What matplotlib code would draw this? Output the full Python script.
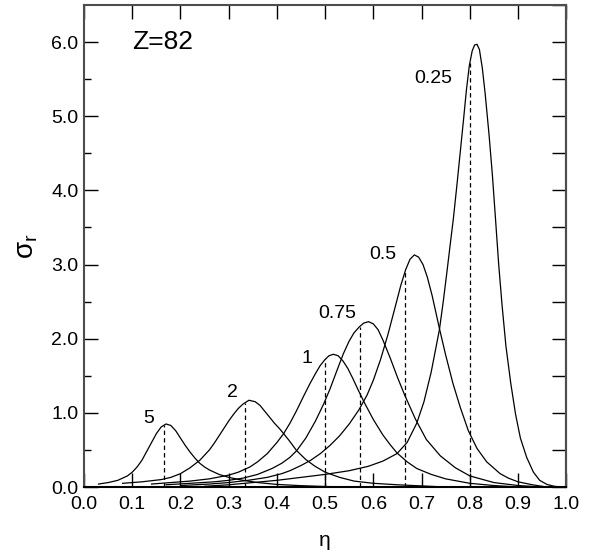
import matplotlib
matplotlib.use('Agg')
import matplotlib.pyplot as plt
import numpy as np

plt.rcParams['font.family'] = ['Liberation Sans', 'DejaVu Sans']
plt.rcParams['mathtext.fontset'] = 'custom'
plt.rcParams['mathtext.rm'] = 'Liberation Sans'
plt.rcParams['mathtext.it'] = 'Liberation Sans'

# curve labels and the eta where the dashed line sits (1/(1+a))
labels = ['5', '2', '1', '0.75', '0.5', '0.25']
eta0 = [1/6, 1/3, 0.5, 4/7, 2/3, 0.8]

# values
eta_5 = [0.03, 0.05, 0.07, 0.09, 0.10, 0.11, 0.12, 0.13, 0.14, 0.15, 0.16, 0.17,
         0.18, 0.19, 0.20, 0.21, 0.22, 0.23, 0.24, 0.25, 0.26, 0.28, 0.30, 0.33,
         0.36, 0.40, 0.45, 0.50, 0.55]
sig_5 = [0.04, 0.06, 0.09, 0.15, 0.20, 0.27, 0.36, 0.48, 0.60, 0.72, 0.81, 0.85,
         0.83, 0.76, 0.66, 0.56, 0.47, 0.39, 0.32, 0.27, 0.23, 0.17, 0.13, 0.09,
         0.06, 0.035, 0.018, 0.007, 0.0]

eta_2 = [0.08, 0.10, 0.12, 0.14, 0.16, 0.18, 0.20, 0.22, 0.24, 0.26, 0.27, 0.28,
         0.29, 0.30, 0.31, 0.32, 0.33, 0.342, 0.355, 0.365, 0.375, 0.385, 0.395,
         0.405, 0.414, 0.425, 0.441, 0.46, 0.479, 0.50, 0.53, 0.56, 0.60, 0.65,
         0.70, 0.75]
sig_2 = [0.05, 0.06, 0.07, 0.085, 0.10, 0.13, 0.18, 0.26, 0.36, 0.50, 0.59, 0.69,
         0.79, 0.89, 0.98, 1.06, 1.12, 1.17, 1.15, 1.10, 1.02, 0.94, 0.86,
         0.79, 0.72, 0.63, 0.49, 0.37, 0.28, 0.20, 0.13, 0.08, 0.05, 0.03,
         0.015, 0.0]

eta_1 = [0.14, 0.18, 0.22, 0.26, 0.30, 0.32, 0.344, 0.36, 0.38, 0.40, 0.414, 0.427,
         0.44, 0.455, 0.469, 0.48, 0.49, 0.50, 0.508, 0.517, 0.527, 0.537, 0.547,
         0.557, 0.567, 0.582, 0.60, 0.62, 0.635, 0.649, 0.67, 0.69, 0.72, 0.75,
         0.80, 0.85, 0.90]
sig_1 = [0.04, 0.06, 0.08, 0.11, 0.16, 0.20, 0.27, 0.34, 0.45, 0.60, 0.72, 0.86,
         1.02, 1.22, 1.40, 1.53, 1.64, 1.72, 1.77, 1.79, 1.77, 1.70, 1.60,
         1.47, 1.33, 1.13, 0.91, 0.70, 0.57, 0.46, 0.34, 0.25, 0.17, 0.11,
         0.05, 0.02, 0.0]

eta_075 = [0.17, 0.22, 0.27, 0.30, 0.33, 0.36, 0.39, 0.41, 0.427, 0.441, 0.46, 0.48,
           0.497, 0.51, 0.525, 0.538, 0.55, 0.56, 0.571, 0.58, 0.59, 0.60, 0.61,
           0.62, 0.635, 0.65, 0.665, 0.687, 0.71, 0.739, 0.77, 0.80, 0.85, 0.90, 0.95]
sig_075 = [0.03, 0.05, 0.07, 0.09, 0.12, 0.17, 0.25, 0.32, 0.40, 0.49, 0.66, 0.89,
           1.12, 1.32, 1.58, 1.80, 1.97, 2.08, 2.16, 2.21, 2.23, 2.20, 2.12,
           1.98, 1.74, 1.48, 1.24, 0.92, 0.64, 0.42, 0.26, 0.15, 0.06, 0.02, 0.0]

eta_05 = [0.20, 0.26, 0.30, 0.34, 0.38, 0.41, 0.427, 0.45, 0.47, 0.49, 0.51, 0.53,
          0.55, 0.57, 0.587, 0.60, 0.615, 0.63, 0.645, 0.657, 0.667, 0.676, 0.685,
          0.694, 0.703, 0.712, 0.722, 0.737, 0.75, 0.765, 0.78, 0.797, 0.815,
          0.835, 0.863, 0.88, 0.90, 0.93, 0.96]
sig_05 = [0.02, 0.04, 0.06, 0.09, 0.13, 0.18, 0.22, 0.29, 0.36, 0.45, 0.56, 0.69,
          0.85, 1.04, 1.24, 1.44, 1.72, 2.05, 2.42, 2.72, 2.93, 3.07, 3.13,
          3.10, 3.00, 2.83, 2.58, 2.14, 1.78, 1.40, 1.08, 0.76, 0.52,
          0.34, 0.18, 0.12, 0.07, 0.03, 0.0]

eta_025 = [0.25, 0.30, 0.35, 0.40, 0.45, 0.50, 0.55, 0.59, 0.62, 0.649, 0.67, 0.69,
           0.705, 0.72, 0.737, 0.745, 0.753, 0.76, 0.766, 0.773, 0.78, 0.787, 0.793,
           0.799, 0.805, 0.81, 0.815, 0.82, 0.826, 0.832, 0.84, 0.847, 0.853, 0.86,
           0.867, 0.875, 0.885, 0.895, 0.905, 0.918, 0.932, 0.945, 0.96, 0.975, 0.99]
sig_025 = [0.01, 0.03, 0.06, 0.09, 0.13, 0.17, 0.22, 0.28, 0.35, 0.45, 0.60, 0.86,
           1.15, 1.55, 2.12, 2.50, 2.92, 3.30, 3.62, 4.05, 4.50, 4.95, 5.35,
           5.68, 5.88, 5.96, 5.97, 5.90, 5.65, 5.30, 4.75, 4.20, 3.65, 3.00,
           2.45, 1.90, 1.40, 0.98, 0.66, 0.40, 0.20, 0.09, 0.035, 0.01, 0.0]

curves = [(eta_5, sig_5), (eta_2, sig_2), (eta_1, sig_1),
          (eta_075, sig_075), (eta_05, sig_05), (eta_025, sig_025)]

# label anchor positions (data coords)
lab_x = [0.135, 0.307, 0.462, 0.526, 0.619, 0.725]
lab_y = [0.93, 1.28, 1.73, 2.34, 3.13, 5.51]

fig = plt.figure(figsize=(5.96, 5.55), dpi=100)
ax = fig.add_axes([0.141, 0.1225, 0.809, 0.8685])

for (x, y), e0 in zip(curves, eta0):
    ax.plot(x, y, color='black', lw=0.9)
    h = np.interp(e0, x, y)
    ax.plot([e0, e0], [0, h], color='black', lw=0.9, dashes=(3.5, 2.5))

for t, lx, ly in zip(labels, lab_x, lab_y):
    ax.text(lx, ly, t, fontsize=14, ha='center', va='center')

ax.text(0.099, 6.0, 'Z=82', fontsize=19, ha='left', va='center')

ax.set_xlim(0, 1.0)
ax.set_ylim(0, 6.5)
ax.set_xticks(np.arange(0, 1.01, 0.1))
ax.set_xticklabels(['%.1f' % v for v in np.arange(0, 1.01, 0.1)])
ax.set_yticks(np.arange(0, 6.1, 1.0))
ax.set_yticklabels(['%.1f' % v for v in np.arange(0, 6.1, 1.0)])
ax.set_yticks(np.arange(0.5, 6.5, 1.0), minor=True)

ax.tick_params(axis='both', which='major', direction='in', length=10, width=1,
               labelsize=14, pad=6.5, top=True)
ax.tick_params(axis='y', which='major', pad=4)
ax.tick_params(axis='y', which='minor', direction='in', length=5, width=1)

sec = ax.secondary_yaxis('right')
sec.set_yticks(np.arange(0, 6.6, 0.5))
sec.set_yticklabels([])
sec.tick_params(direction='in', length=10, width=1)
sec.spines['right'].set_linewidth(1.5)
sec.spines['right'].set_color('0.3')

for s in ax.spines.values():
    s.set_linewidth(1.5)
    s.set_color('0.3')
ax.spines['bottom'].set_color('black')

ax.set_xlabel('η', fontsize=15, labelpad=13)
ax.set_ylabel(r'$\mathregular{\sigma_r}$', fontsize=20, labelpad=8)

fig.savefig('out.png', dpi=100)
